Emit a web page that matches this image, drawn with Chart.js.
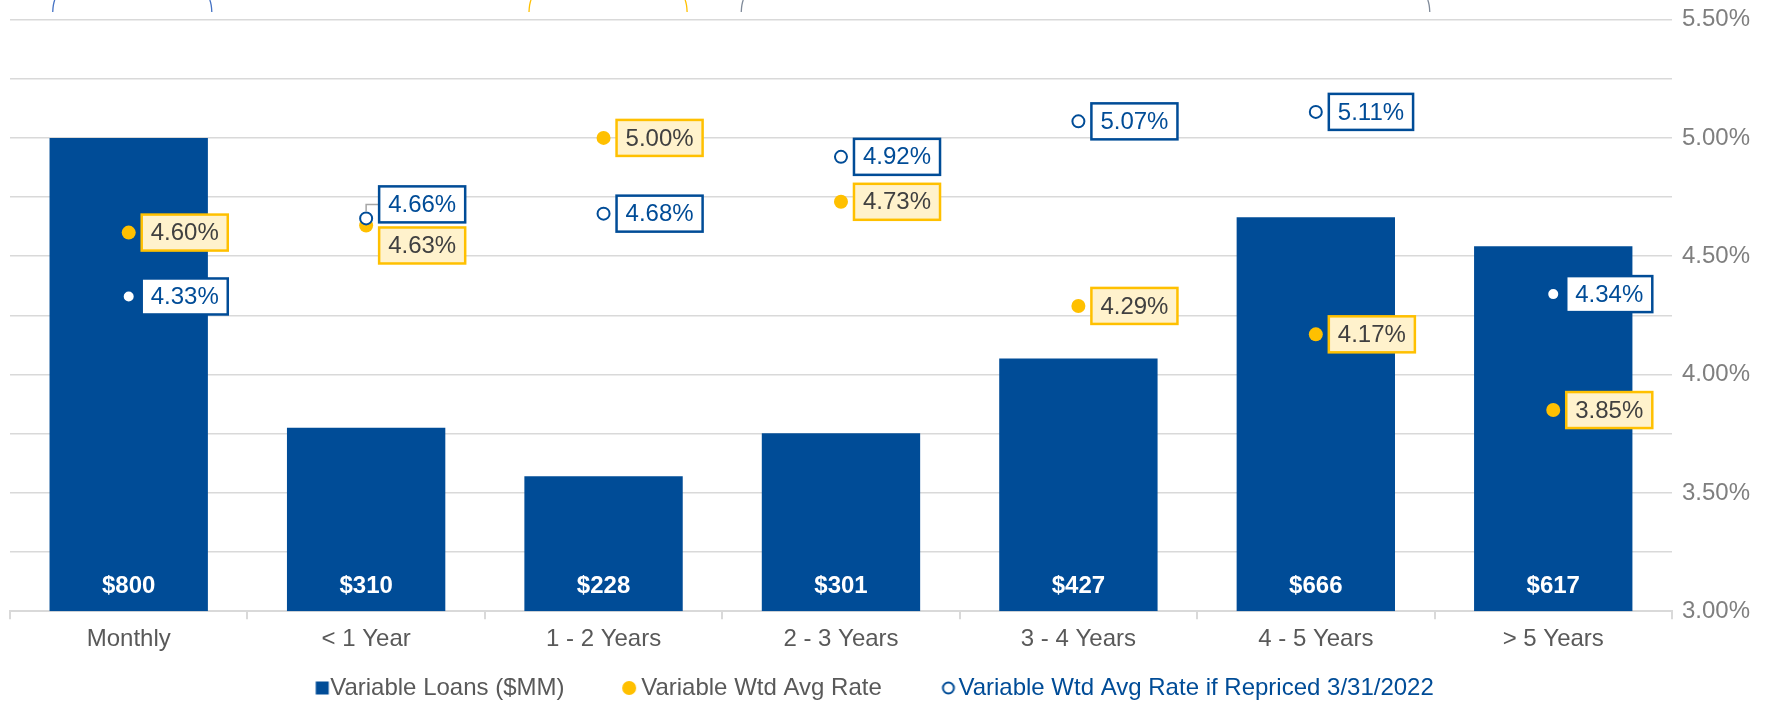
<!DOCTYPE html>
<html>
<head>
<meta charset="utf-8">
<script src="https://cdn.jsdelivr.net/npm/chart.js@4.4.1/dist/chart.umd.min.js"></script>
<style>
  html, body { margin: 0; padding: 0; background: #fff; }
</style>
</head>
<body>
<canvas id="chart" width="1774" height="704"></canvas>
<script>
const categories = ['Monthly', '< 1 Year', '1 - 2 Years', '2 - 3 Years', '3 - 4 Years', '4 - 5 Years', '> 5 Years'];
const loans = [800, 310, 228, 301, 427, 666, 617];
const wtdAvgRate = [4.60, 4.63, 5.00, 4.73, 4.29, 4.17, 3.85];
const repricedRate = [4.33, 4.66, 4.68, 4.92, 5.07, 5.11, 4.34];
const rateTicks = [3.0, 3.5, 4.0, 4.5, 5.0, 5.5];

// vertical nudges for the value boxes where two labels would collide
const wtdLabelShift = [0, 20, 0, 0, 0, 0, 0];
const repricedLabelShift = [0, -14, 0, 0, 0, 0, 0];

const BLUE = '#004C97';
const YELLOW = '#FFC000';
const FONT = '"Liberation Sans", Arial, sans-serif';

// small icons for the legend, drawn a bit right of centre so the text sits close
function makeIcon(dx, draw) {
    const c = document.createElement('canvas');
    c.width = 40;
    c.height = 16;
    draw(c.getContext('2d'), 20 + dx, 8);
    return c;
}
const legendIcons = [
    makeIcon(5, (g, x, y) => { g.fillStyle = BLUE; g.fillRect(x - 6.5, y - 6.5, 13, 13); }),
    makeIcon(1, (g, x, y) => { g.fillStyle = YELLOW; g.beginPath(); g.arc(x, y, 7, 0, Math.PI * 2); g.fill(); }),
    makeIcon(3, (g, x, y) => {
        g.fillStyle = '#fff'; g.strokeStyle = BLUE; g.lineWidth = 2;
        g.beginPath(); g.arc(x, y, 5.5, 0, Math.PI * 2); g.fill(); g.stroke();
    }),
];

// value boxes next to the rate points, and $ labels at the foot of the bars
const valueLabels = {
    id: 'valueLabels',
    afterDatasetsDraw(chart) {
        const ctx = chart.ctx;
        ctx.save();
        chart.data.datasets.forEach((ds, i) => {
            const meta = chart.getDatasetMeta(i);
            if (ds.type === 'bar') {
                ctx.font = 'bold 24px ' + FONT;
                ctx.fillStyle = '#fff';
                ctx.textAlign = 'center';
                ctx.textBaseline = 'middle';
                meta.data.forEach((bar, j) => {
                    ctx.fillText('$' + ds.data[j], bar.x, bar.base - 25);
                });
                return;
            }
            ctx.font = '24px ' + FONT;
            ctx.textAlign = 'left';
            ctx.textBaseline = 'middle';
            meta.data.forEach((pt, j) => {
                const text = ds.data[j].toFixed(2) + '%';
                const w = ctx.measureText(text).width + 18;
                const h = 36;
                const shift = ds.labelShift[j];
                const left = pt.x + 13;
                const cy = pt.y + shift;
                if (shift < 0) {
                    ctx.strokeStyle = '#a6a6a6';
                    ctx.lineWidth = 1.5;
                    ctx.beginPath();
                    ctx.moveTo(pt.x, pt.y - 7);
                    ctx.lineTo(pt.x, cy);
                    ctx.lineTo(left, cy);
                    ctx.stroke();
                }
                ctx.fillStyle = ds.boxFill;
                ctx.fillRect(left, cy - h / 2, w, h);
                ctx.strokeStyle = ds.boxBorder;
                ctx.lineWidth = 2.5;
                ctx.strokeRect(left, cy - h / 2, w, h);
                ctx.fillStyle = ds.boxText;
                ctx.fillText(text, left + 9, cy + 1);
            });
        });
        ctx.restore();
    }
};

// ends of the brackets that were cut off above the chart
const braceSpans = [
    { from: -0.32, to: 0.35, color: '#4472C4' },
    { from: 1.686, to: 2.352, color: YELLOW },
    { from: 2.58, to: 5.48, color: '#7f8a99' },
];
const braceEnds = {
    id: 'braceEnds',
    afterDraw(chart) {
        const ctx = chart.ctx;
        const x = chart.scales.x;
        ctx.save();
        ctx.lineWidth = 1.3;
        braceSpans.forEach((b) => {
            const x0 = x.getPixelForValue(b.from);
            const x1 = x.getPixelForValue(b.to);
            ctx.strokeStyle = b.color;
            ctx.beginPath();
            ctx.moveTo(x0 + 2, 0);
            ctx.quadraticCurveTo(x0 + 0.3, 4, x0, 12);
            ctx.moveTo(x1 - 2, 0);
            ctx.quadraticCurveTo(x1 - 0.3, 4, x1, 12);
            ctx.stroke();
        });
        ctx.restore();
    }
};

// trailing blanks space the legend items like the original
const itemGaps = [' '.repeat(7), ' '.repeat(7), ' '.repeat(3)];

new Chart(document.getElementById('chart'), {
    data: {
        labels: categories,
        datasets: [
            {
                type: 'bar',
                label: 'Variable Loans ($MM)',
                data: loans,
                yAxisID: 'yLoans',
                backgroundColor: BLUE,
                categoryPercentage: 1,
                barPercentage: 0.667,
                order: 3,
                legendColor: '#595959',
            },
            {
                type: 'line',
                label: 'Variable Wtd Avg Rate',
                data: wtdAvgRate,
                yAxisID: 'yRate',
                showLine: false,
                pointRadius: 7,
                pointBorderWidth: 0,
                pointBackgroundColor: YELLOW,
                order: 2,
                labelShift: wtdLabelShift,
                boxFill: '#FFF2CC',
                boxBorder: YELLOW,
                boxText: '#404040',
                legendColor: '#595959',
            },
            {
                type: 'line',
                label: 'Variable Wtd Avg Rate if Repriced 3/31/2022',
                data: repricedRate,
                yAxisID: 'yRate',
                showLine: false,
                pointRadius: 6,
                pointBorderWidth: 2,
                pointBorderColor: BLUE,
                pointBackgroundColor: '#fff',
                order: 1,
                labelShift: repricedLabelShift,
                boxFill: '#fff',
                boxBorder: BLUE,
                boxText: BLUE,
                legendColor: BLUE,
            },
        ],
    },
    options: {
        responsive: false,
        animation: false,
        devicePixelRatio: 1,
        layout: { padding: { left: 10, right: 14, top: 0, bottom: -6 } },
        plugins: {
            tooltip: { enabled: false },
            legend: {
                position: 'bottom',
                labels: {
                    usePointStyle: true,
                    boxWidth: 2,
                    boxHeight: 14,
                    padding: 16,
                    font: { size: 24, family: FONT },
                    generateLabels: (chart) => chart.data.datasets.map((ds, i) => ({
                        text: ds.label + itemGaps[i],
                        pointStyle: legendIcons[i],
                        fillStyle: '#fff',
                        strokeStyle: '#fff',
                        lineWidth: 0,
                        fontColor: ds.legendColor,
                        hidden: false,
                        datasetIndex: i,
                    })),
                },
            },
        },
        scales: {
            x: {
                offset: true,
                grid: { offset: true, drawOnChartArea: false, tickLength: 8, color: '#d9d9d9', lineWidth: 2 },
                border: { color: '#d9d9d9', width: 2 },
                ticks: { color: '#595959', font: { size: 24, family: FONT }, padding: 6, maxRotation: 0 },
            },
            yLoans: { position: 'left', display: false, min: 0, max: 1000 },
            yRate: {
                position: 'right',
                min: 3,
                max: 5.5,
                grid: { color: '#d9d9d9', lineWidth: 1.5, drawTicks: false },
                border: { display: false },
                ticks: {
                    stepSize: 0.25,
                    padding: 10,
                    color: '#7f7f7f',
                    font: { size: 24, family: FONT, lineHeight: 0.8 },
                    callback: (v) => rateTicks.some((t) => Math.abs(t - v) < 1e-6) ? v.toFixed(2) + '%' : '',
                },
            },
        },
    },
    plugins: [valueLabels, braceEnds],
});
</script>
</body>
</html>
